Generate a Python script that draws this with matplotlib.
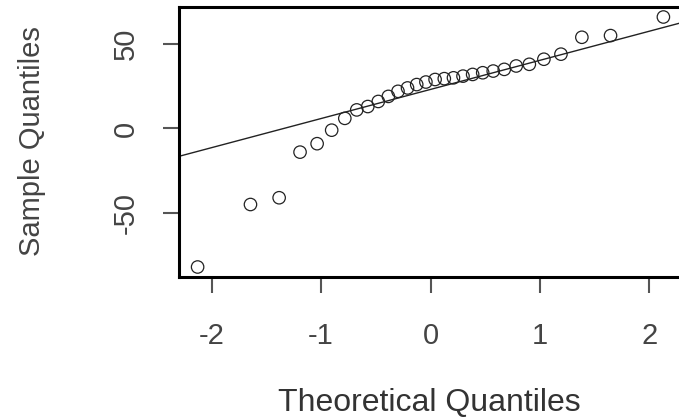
import numpy as np
import matplotlib
matplotlib.use("Agg")
import matplotlib.pyplot as plt

plt.rcParams['font.family'] = ['Liberation Sans', 'DejaVu Sans']
plt.rcParams['axes.unicode_minus'] = False

# theoretical normal quantiles (n = 30)
theo = [-2.128, -1.645, -1.383, -1.192, -1.036, -0.903, -0.783, -0.674, -0.573, -0.477,
        -0.385, -0.297, -0.210, -0.126, -0.042, 0.042, 0.126, 0.210, 0.297, 0.385,
        0.477, 0.573, 0.674, 0.783, 0.903, 1.036, 1.192, 1.383, 1.645, 2.128]
# sample quantiles
sample = [-82, -45, -41, -14, -9, -1, 6, 11, 13, 16,
          19, 22, 24, 26, 27.5, 29, 29.5, 30, 31, 32,
          33, 34, 35, 37, 38, 41, 44, 54, 55, 66]

xticks = [-2, -1, 0, 1, 2]
yticks = [-50, 0, 50]

theo = np.array(theo); sample = np.array(sample)

fig = plt.figure(figsize=(6.79, 4.18), dpi=100)
ax = fig.add_axes([179/679, 141/418, 503/679, 270/418])

ax.scatter(theo, sample, s=80, facecolors='none', edgecolors='#222222', linewidths=0.9)

# qqline through the quartiles
q25, q75 = np.quantile(sample, [0.25, 0.75])
slope = (q75 - q25) / (0.6745 * 2)
inter = q25 + 0.6745 * slope
xr = (-2.298, 2.298)
ax.plot(xr, [inter + slope * x for x in xr], color='#222222', lw=1.0)

ax.set_xlim(xr)
yrng = sample.max() - sample.min()
ax.set_ylim(sample.min() - 0.04 * yrng, sample.max() + 0.04 * yrng)

ax.set_xticks(xticks)
ax.set_xticklabels([str(t) for t in xticks])
ax.set_yticks(yticks)
ax.set_yticklabels([str(t) for t in yticks], rotation=90, va='center')
ax.tick_params(axis='both', length=11.5, width=1.5, labelsize=21, labelcolor='#444444', color='#555555')
ax.tick_params(axis='x', pad=21)
ax.tick_params(axis='y', pad=17)
for s in ax.spines.values():
    s.set_linewidth(2.2)

fig.text(429/679, 1 - 403/418, 'Theoretical Quantiles', ha='center', va='center',
         fontsize=23, color='#333333')
fig.text(32/679, 1 - 141/418, 'Sample Quantiles', ha='center', va='center',
         rotation=90, fontsize=21, color='#444444')

plt.savefig('out.png', dpi=100)
